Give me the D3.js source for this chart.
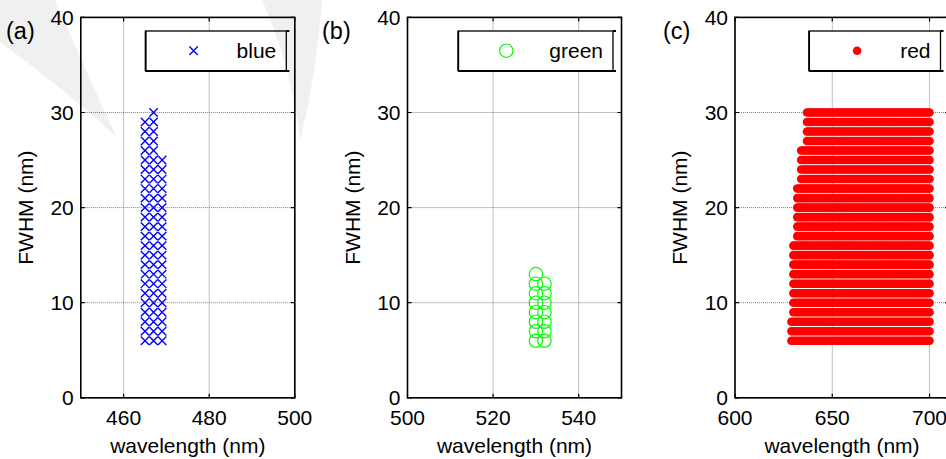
<!DOCTYPE html>
<html>
<head>
<meta charset="utf-8">
<script src="https://d3js.org/d3.v7.min.js"></script>
<style>
    body { margin: 0; background: #fff; }
    svg text { font-family: "Liberation Sans", Arial, Helvetica, sans-serif; fill: #000; }
    .grid line { stroke: #808080; stroke-width: 1; stroke-dasharray: 1,1; }
    .box { fill: none; stroke: #000; stroke-width: 1.6; }
</style>
</head>
<body>
<script>
    // ---- data ----
    var yTicks = [0, 10, 20, 30, 40];
    var fwhmLevels = [6, 7, 8, 9, 10, 11, 12, 13, 14, 15, 16, 17, 18, 19, 20,
                      21, 22, 23, 24, 25, 26, 27, 28, 29, 30];

    // blue: columns of wavelength, each from FWHM 6 up to its top value
    var blueWavelengths = [465, 467, 469];
    var blueTop = [29, 30, 25];

    // green: same idea
    var greenWavelengths = [530, 532];
    var greenTop = [13, 12];

    // red: one row per FWHM level, from start wavelength to 700 nm
    var redStart = [629, 629, 629, 630, 630, 630, 630, 630, 630, 630, 630,
                    632, 632, 632, 632, 632, 632, 634, 634, 634, 634,
                    637, 637, 637, 637];
    var redEnd = 700;

    var panelLabels = ["(a)", "(b)", "(c)"];
    var legendNames = ["blue", "green", "red"];
    var xDomains = [[450, 500], [500, 550], [600, 710]];
    var xTicks = [[460, 480, 500], [500, 520, 540], [600, 650, 700]];

    // build point lists
    var bluePts = [];
    blueWavelengths.forEach(function (w, i) {
        fwhmLevels.forEach(function (f) { if (f <= blueTop[i]) bluePts.push([w, f]); });
    });
    var greenPts = [];
    greenWavelengths.forEach(function (w, i) {
        fwhmLevels.forEach(function (f) { if (f <= greenTop[i]) greenPts.push([w, f]); });
    });
    var redPts = [];
    fwhmLevels.forEach(function (f, i) {
        for (var w = redStart[i]; w <= redEnd; w++) redPts.push([w, f]);
    });
    var seriesPts = [bluePts, greenPts, redPts];

    // ---- layout ----
    var W = 946, H = 459;
    var plotTop = 17.4, plotBottom = 397.8;
    var lefts = [80.8, 407.5, 735];
    var plotW = 214;
    var labelX = [6, 322, 663];
    var fs = "21px";

    var svg = d3.select("body").append("svg")
        .attr("width", W)
        .attr("height", H);

    var y = d3.scaleLinear().domain([0, 40]).range([plotBottom, plotTop]);

    function drawMarker(g, type, x0, y0) {
        if (type == 0) {
            g.append("path")
                .attr("d", "M" + (x0 - 4.2) + "," + (y0 - 4.2) + "L" + (x0 + 4.2) + "," + (y0 + 4.2) +
                           "M" + (x0 - 4.2) + "," + (y0 + 4.2) + "L" + (x0 + 4.2) + "," + (y0 - 4.2))
                .attr("stroke", "#0000ff")
                .attr("stroke-width", 1.4)
                .attr("fill", "none");
        } else if (type == 1) {
            g.append("circle")
                .attr("cx", x0).attr("cy", y0).attr("r", 6.7)
                .attr("fill", "none")
                .attr("stroke", "#00ff00")
                .attr("stroke-width", 1.2);
        } else {
            g.append("circle")
                .attr("cx", x0).attr("cy", y0).attr("r", 4.3)
                .attr("fill", "#ff0000");
        }
    }

    for (var p = 0; p < 3; p++) {
        var x = d3.scaleLinear().domain(xDomains[p]).range([lefts[p], lefts[p] + plotW]);
        var g = svg.append("g");
        var x1 = lefts[p], x2 = lefts[p] + plotW;

        g.append("rect")
            .attr("x", x1).attr("y", plotTop)
            .attr("width", plotW).attr("height", plotBottom - plotTop)
            .attr("fill", "#fff");

        // grid
        var grid = g.append("g").attr("class", "grid");
        grid.selectAll(".gx").data(xTicks[p]).enter().append("line")
            .attr("x1", function (d) { return x(d); })
            .attr("x2", function (d) { return x(d); })
            .attr("y1", plotTop).attr("y2", plotBottom);
        grid.selectAll(".gy").data(yTicks).enter().append("line")
            .attr("x1", x1).attr("x2", x2)
            .attr("y1", function (d) { return y(d); })
            .attr("y2", function (d) { return y(d); });

        // points
        var pts = g.append("g");
        seriesPts[p].forEach(function (d) {
            drawMarker(pts, p, x(d[0]), y(d[1]));
        });

        // box + inward ticks
        g.append("rect").attr("class", "box")
            .attr("x", x1).attr("y", plotTop)
            .attr("width", plotW).attr("height", plotBottom - plotTop);

        var ticks = "";
        xTicks[p].forEach(function (d) {
            ticks += "M" + x(d) + "," + plotBottom + "v-4M" + x(d) + "," + plotTop + "v4";
        });
        yTicks.forEach(function (d) {
            ticks += "M" + x1 + "," + y(d) + "h4M" + x2 + "," + y(d) + "h-4";
        });
        g.append("path").attr("d", ticks).attr("stroke", "#000").attr("stroke-width", 1.2);

        // tick labels
        g.selectAll(".xt").data(xTicks[p]).enter().append("text")
            .attr("x", function (d) { return x(d); })
            .attr("y", plotBottom + 27.5)
            .attr("text-anchor", "middle")
            .style("font-size", fs)
            .text(function (d) { return d; });
        g.selectAll(".yt").data(yTicks).enter().append("text")
            .attr("x", x1 - 7)
            .attr("y", function (d) { return y(d); })
            .attr("dy", "0.34em")
            .attr("text-anchor", "end")
            .style("font-size", fs)
            .text(function (d) { return d; });

        // axis titles
        g.append("text")
            .attr("x", (x1 + x2) / 2)
            .attr("y", plotBottom + 55)
            .attr("text-anchor", "middle")
            .style("font-size", fs)
            .text("wavelength (nm)");
        g.append("text")
            .attr("transform", "translate(" + (x1 - 48) + "," + ((plotTop + plotBottom) / 2) + ") rotate(-90)")
            .attr("text-anchor", "middle")
            .style("font-size", fs)
            .text("FWHM (nm)");

        // panel label
        svg.append("text")
            .attr("x", labelX[p])
            .attr("y", 39)
            .style("font-size", "23.5px")
            .text(panelLabels[p]);

        // legend
        var lg = g.append("g");
        var lt = lg.append("text")
            .attr("y", 50.7)
            .attr("dy", "0.36em")
            .attr("text-anchor", "end")
            .style("font-size", fs)
            .text(legendNames[p]);
        var tw = lt.node().getComputedTextLength();
        var bx2 = x2 - 8.5;
        var bx1 = bx2 - 10 - tw - 43 - 48;
        lt.attr("x", bx2 - 10);
        lg.insert("rect", "text")
            .attr("x", bx1).attr("y", 31)
            .attr("width", bx2 - bx1).attr("height", 40)
            .attr("fill", "#fff")
            .attr("stroke", "#000")
            .attr("stroke-width", 1.3);
        lg.append("path")
            .attr("d", "M" + bx1 + "," + 71 + "H" + bx2 + "M" + bx1 + "," + 31 + "V71" +
                       "M" + bx2 + ",31h3M" + bx2 + ",71h3")
            .attr("stroke", "#000").attr("stroke-width", 1.8).attr("fill", "none");
        drawMarker(lg, p, bx1 + 48, 50.7);
    }

    // faint watermark arcs in the top-left
    svg.append("path")
        .attr("d", "M0,0 L55,0 Q88,75 116,136 Q62,88 0,42 Z M262,0 L322,0 Q316,78 300,140 Q292,68 262,0 Z")
        .attr("fill", "#000")
        .attr("fill-opacity", 0.06);
</script>
</body>
</html>
